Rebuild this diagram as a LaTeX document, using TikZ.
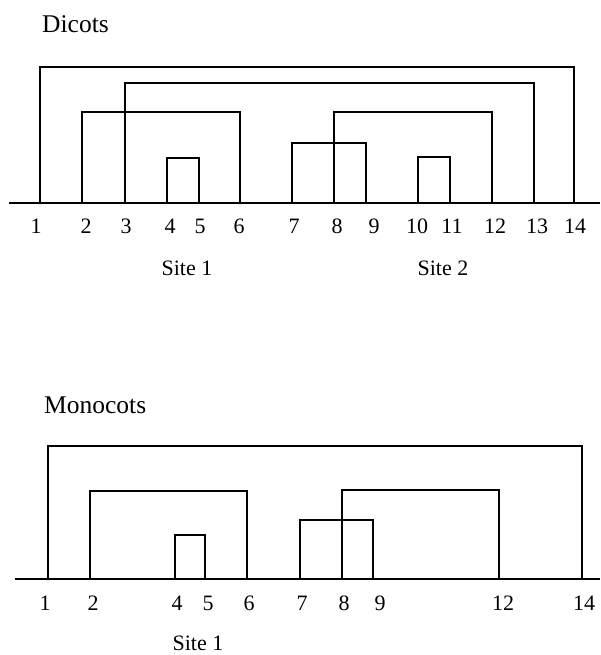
\documentclass[tikz,border=0pt]{standalone}
\usepackage{fontspec}
\setmainfont{Liberation Serif}
\begin{document}
\begin{tikzpicture}[x=1pt,y=-1pt,
  lbl/.style={inner sep=0pt,font=\fontsize{22}{25}\selectfont},
  ttl/.style={inner sep=0pt,anchor=west,font=\fontsize{25.5}{28}\selectfont},
  link/.style={line width=1.5pt,line join=miter}]
\useasboundingbox (0,0) rectangle (600,655);
% ---------- Dicots ----------
\node[ttl] (tdic) at (42,24) {Dicots};
\draw[link] (9,203) -- (600,203);
\foreach \n/\x in {1/40,2/82,3/125,4/167,5/199,6/240,7/292,8/334,9/366,10/418,11/450,12/492,13/534,14/574}
  \coordinate (d\n) at (\x,203);
\draw[link] (d1) -- ++(0,-136) -| (d14);
\draw[link] (d3) -- ++(0,-120) -| (d13);
\draw[link] (d2) -- ++(0,-91) -| (d6);
\draw[link] (d8) -- ++(0,-91) -| (d12);
\draw[link] (d7) -- ++(0,-60) -| (d9);
\draw[link] (d4) -- ++(0,-45) -| (d5);
\draw[link] (d10) -- ++(0,-46) -| (d11);
\foreach \n/\x in {1/36,2/86,3/126,4/170,5/200,6/239,7/294,8/337,9/374,10/417,11/452,12/495,13/537,14/575}
  \node[lbl] (ld\n) at (\x,226) {\n};
\node[lbl] (ds1) at (187,268) {Site 1};
\node[lbl] (ds2) at (443,268) {Site 2};
% ---------- Monocots ----------
\node[ttl] (tmon) at (44,405) {Monocots};
\draw[link] (15,579) -- (600,579);
\foreach \n/\x in {1/48,2/90,4/175,5/205,6/247,7/300,8/342,9/373,12/499,14/582}
  \coordinate (m\n) at (\x,579);
\draw[link] (m1) -- ++(0,-133) -| (m14);
\draw[link] (m2) -- ++(0,-88) -| (m6);
\draw[link] (m8) -- ++(0,-89) -| (m12);
\draw[link] (m7) -- ++(0,-59) -| (m9);
\draw[link] (m4) -- ++(0,-44) -| (m5);
\foreach \n/\x in {1/45,2/93,4/177,5/208,6/249,7/302,8/344,9/380,12/503,14/584}
  \node[lbl] (lm\n) at (\x,603) {\n};
\node[lbl] (ms1) at (198,643) {Site 1};
\end{tikzpicture}
\end{document}
